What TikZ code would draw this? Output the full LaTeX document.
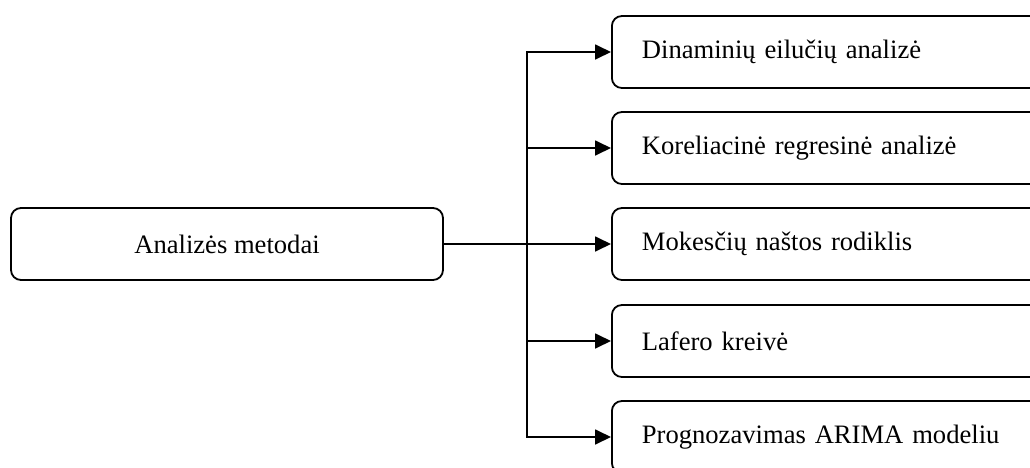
\documentclass[tikz,border=0pt]{standalone}
\usepackage{fontspec}
\setmainfont{Liberation Serif}
\usetikzlibrary{shapes.geometric, arrows.meta}

\begin{document}
\begin{tikzpicture}[x=0.5pt, y=-0.5pt, font=\fontsize{13.3}{16}\selectfont]
\tikzstyle{line}=[draw, line width=1pt]
\tikzstyle{mainbox} = [rectangle, rounded corners=5pt, minimum width=216pt, minimum height=36pt, text centered, draw=black, line width=0.9pt]
\tikzstyle{method} = [rectangle, rounded corners=5pt, minimum width=230pt, minimum height=36pt, text width=200pt, align=left, inner xsep=6.5pt, draw=black, line width=0.9pt, anchor=west]
\tikzstyle{arrow}=[draw, line width=0.9pt, -{Triangle[length=8pt,width=7.5pt]}]

\useasboundingbox (0,0) rectangle (1030,467);
\clip (0,0) rectangle (1030,467);

\node (methods) [mainbox] at (227,244) {Analizės metodai};
\node (dyn) [method] at (611,52) {Dinaminių eilučių analizė};
\node (corr) [method] at (611,148) {Koreliacinė regresinė analizė};
\node (tax) [method] at (611,244) {Mokesčių naštos rodiklis};
\node (laffer) [method] at (611,341) {Lafero kreivė};
\node (arima) [method] at (611,437) {Prognozavimas ARIMA modeliu};

\coordinate (split) at (527,244);

\draw [arrow] (methods) -- (tax);
\draw [arrow] (split) |- (dyn.west);
\draw [arrow] (split) |- (corr.west);
\draw [arrow] (split) |- (laffer.west);
\draw [arrow] (split) |- (arima.west);

\end{tikzpicture}
\end{document}
